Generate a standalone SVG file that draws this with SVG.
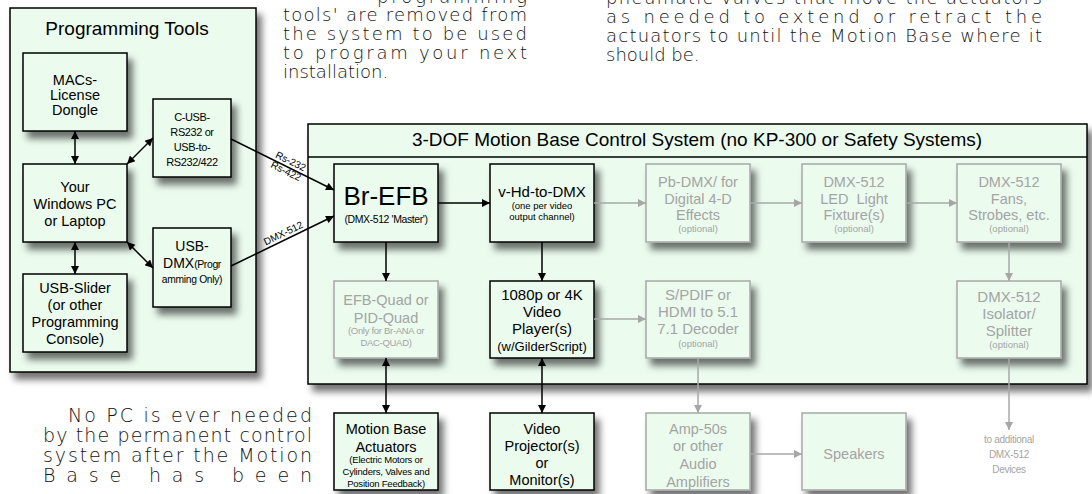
<svg xmlns="http://www.w3.org/2000/svg" width="1092" height="494" viewBox="0 0 1092 494">
<defs>
<filter id="sh" x="-20%" y="-20%" width="150%" height="150%">
<feDropShadow dx="5" dy="7" stdDeviation="3.5" flood-color="#000" flood-opacity="0.55"/>
</filter>
<marker id="ah" viewBox="0 0 10 10" refX="10" refY="5" markerWidth="9" markerHeight="8" orient="auto-start-reverse" markerUnits="userSpaceOnUse"><path d="M0,0 L10,5 L0,10 z" fill="#000"/></marker>
<marker id="ag" viewBox="0 0 10 10" refX="10" refY="5" markerWidth="9" markerHeight="8" orient="auto-start-reverse" markerUnits="userSpaceOnUse"><path d="M0,0 L10,5 L0,10 z" fill="#a6a6a6"/></marker>
</defs>
<style>
.box{fill:#ebfbee;stroke:#000;stroke-width:1.5;filter:url(#sh)}
.gbox{fill:#ebfbee;stroke:#a8a8a8;stroke-width:1.5;filter:url(#sh)}
.t{font-family:"Liberation Sans",Arial,sans-serif;text-anchor:middle;fill:#000;font-size:14.5px}
.g{fill:#a4a4a4}
.s{font-size:9.5px}
.c{stroke:#000;stroke-width:1.5;fill:none;marker-end:url(#ah)}
.cb{stroke:#000;stroke-width:1.5;fill:none;marker-end:url(#ah);marker-start:url(#ah)}
.cg{stroke:#a8a8a8;stroke-width:1.5;fill:none;marker-end:url(#ag)}
.p{font-family:"DejaVu Sans","Open Sans",sans-serif;font-weight:200;font-size:18px;fill:#111}
.lbl{font-family:"Liberation Sans",Arial,sans-serif;font-size:10px;text-anchor:middle;fill:#000}
</style>
<rect width="1092" height="494" fill="#fff"/>

<g id="para-top-left" class="p">
<text x="377" y="3" textLength="150" lengthAdjust="spacing">programming</text>
<text x="283" y="21" textLength="244" lengthAdjust="spacing">tools' are removed from</text>
<text x="283" y="40" textLength="244" lengthAdjust="spacing">the system to be used</text>
<text x="283" y="59" textLength="244" lengthAdjust="spacing">to program your next</text>
<text x="283" y="78">installation.</text>
</g>
<g id="para-top-right" class="p">
<text x="606" y="4" textLength="436" lengthAdjust="spacing">pneumatic valves that move the actuators</text>
<text x="606" y="23" textLength="436" lengthAdjust="spacing">as needed to extend or retract the</text>
<text x="606" y="42" textLength="436" lengthAdjust="spacing">actuators to until the Motion Base where it</text>
<text x="606" y="61">should be.</text>
</g>
<g id="para-bottom-left" class="p" style="font-size:19px">
<text x="68" y="422" textLength="244" lengthAdjust="spacing">No PC is ever needed</text>
<text x="43" y="442" textLength="269" lengthAdjust="spacing">by the permanent control</text>
<text x="43" y="462" textLength="269" lengthAdjust="spacing">system after the Motion</text>
<text x="43" y="482" textLength="269" lengthAdjust="spacing">Base has been</text>
</g>

<g id="programming-tools">
<rect class="box" x="10" y="8" width="246" height="364"/>
<text class="t" x="127" y="35" style="font-size:19px">Programming Tools</text>
</g>
<g id="motion-system">
<rect class="box" x="308" y="124" width="779" height="260"/>
<line x1="308" y1="157" x2="1087" y2="157" stroke="#000" stroke-width="1.5"/>
<text class="t" x="697" y="146" style="font-size:19px">3-DOF Motion Base Control System (no KP-300 or Safety Systems)</text>
</g>

<g id="macs">
<rect class="box" x="23" y="53" width="104" height="78"/>
<text class="t" x="75" y="85">MACs-</text>
<text class="t" x="75" y="100">License</text>
<text class="t" x="75" y="115">Dongle</text>
</g>
<g id="pc">
<rect class="box" x="23" y="164" width="104" height="78"/>
<text class="t" x="75" y="192">Your</text>
<text class="t" x="75" y="209">Windows PC</text>
<text class="t" x="75" y="226">or Laptop</text>
</g>
<g id="slider">
<rect class="box" x="23" y="274" width="104" height="78"/>
<text class="t" x="75" y="293">USB-Slider</text>
<text class="t" x="75" y="310">(or other</text>
<text class="t" x="75" y="327">Programming</text>
<text class="t" x="75" y="344">Console)</text>
</g>
<g id="c-usb">
<rect class="box" x="153" y="99" width="78" height="78"/>
<text class="t" x="192" y="121" style="font-size:11px;letter-spacing:-0.4px">C-USB-</text>
<text class="t" x="192" y="136" style="font-size:11px;letter-spacing:-0.4px">RS232 or</text>
<text class="t" x="192" y="151" style="font-size:11px;letter-spacing:-0.4px">USB-to-</text>
<text class="t" x="192" y="166" style="font-size:11px;letter-spacing:-0.4px">RS232/422</text>
</g>
<g id="usb-dmx">
<rect class="box" x="153" y="228" width="78" height="79"/>
<text class="t" x="192" y="251" style="font-size:14px">USB-</text>
<text class="t" x="192" y="268" style="font-size:14px">DMX<tspan style="font-size:10.5px;letter-spacing:-0.4px">(Progr</tspan></text>
<text class="t" x="192" y="283" style="font-size:10.3px;letter-spacing:-0.3px">amming Only)</text>
</g>

<g id="br-efb">
<rect class="box" x="334" y="164" width="104" height="78"/>
<text class="t" x="386" y="205" style="font-size:26px">Br-EFB</text>
<text class="t" x="386" y="223" style="font-size:10.5px;letter-spacing:-0.4px">(DMX-512 'Master')</text>
</g>
<g id="v-hd">
<rect class="box" x="490" y="164" width="104" height="78"/>
<text class="t" x="542" y="197" style="font-size:15px">v-Hd-to-DMX</text>
<text class="t s" x="542" y="209">(one per video</text>
<text class="t s" x="542" y="220">output channel)</text>
</g>
<g id="pb-dmx">
<rect class="gbox" x="646" y="164" width="104" height="78"/>
<text class="t g" x="698" y="187">Pb-DMX/ for</text>
<text class="t g" x="698" y="204">Digital 4-D</text>
<text class="t g" x="698" y="220">Effects</text>
<text class="t g s" x="698" y="232">(optional)</text>
</g>
<g id="led">
<rect class="gbox" x="802" y="164" width="104" height="78"/>
<text class="t g" x="854" y="187">DMX-512</text>
<text class="t g" x="854" y="204" xml:space="preserve">LED  Light</text>
<text class="t g" x="854" y="220">Fixture(s)</text>
<text class="t g s" x="854" y="232">(optional)</text>
</g>
<g id="fans">
<rect class="gbox" x="957" y="164" width="104" height="78"/>
<text class="t g" x="1009" y="187">DMX-512</text>
<text class="t g" x="1009" y="204">Fans,</text>
<text class="t g" x="1009" y="220">Strobes, etc.</text>
<text class="t g s" x="1009" y="232">(optional)</text>
</g>

<g id="efb-quad">
<rect class="gbox" x="334" y="281" width="104" height="77"/>
<text class="t g" x="386" y="305">EFB-Quad or</text>
<text class="t g" x="386" y="323">PID-Quad</text>
<text class="t g s" x="386" y="334" style="letter-spacing:-0.3px">(Only for Br-ANA or</text>
<text class="t g s" x="386" y="346" style="letter-spacing:-0.3px">DAC-QUAD)</text>
</g>
<g id="video-player">
<rect class="box" x="490" y="281" width="104" height="77"/>
<text class="t" x="542" y="300" style="font-size:15px">1080p or 4K</text>
<text class="t" x="542" y="317" style="font-size:15px">Video</text>
<text class="t" x="542" y="334" style="font-size:15px">Player(s)</text>
<text class="t" x="542" y="351" style="font-size:13px">(w/GilderScript)</text>
</g>
<g id="spdif">
<rect class="gbox" x="646" y="281" width="104" height="77"/>
<text class="t g" x="698" y="300" style="font-size:15px">S/PDIF or</text>
<text class="t g" x="698" y="317" style="font-size:15px">HDMI to 5.1</text>
<text class="t g" x="698" y="334" style="font-size:15px">7.1 Decoder</text>
<text class="t g s" x="698" y="347">(optional)</text>
</g>
<g id="isolator">
<rect class="gbox" x="957" y="281" width="104" height="77"/>
<text class="t g" x="1009" y="302" style="font-size:15px">DMX-512</text>
<text class="t g" x="1009" y="319" style="font-size:15px">Isolator/</text>
<text class="t g" x="1009" y="336" style="font-size:15px">Splitter</text>
<text class="t g s" x="1009" y="348">(optional)</text>
</g>

<g id="actuators">
<rect class="box" x="334" y="413" width="104" height="77"/>
<text class="t" x="386" y="434">Motion Base</text>
<text class="t" x="386" y="452">Actuators</text>
<text class="t s" x="386" y="463" style="letter-spacing:-0.2px">(Electric Motors or</text>
<text class="t s" x="386" y="475" style="letter-spacing:-0.2px">Cylinders, Valves and</text>
<text class="t s" x="386" y="487" style="letter-spacing:-0.2px">Position Feedback)</text>
</g>
<g id="projector">
<rect class="box" x="490" y="413" width="104" height="77"/>
<text class="t" x="542" y="434">Video</text>
<text class="t" x="542" y="451">Projector(s)</text>
<text class="t" x="542" y="468">or</text>
<text class="t" x="542" y="485">Monitor(s)</text>
</g>
<g id="amp">
<rect class="gbox" x="646" y="413" width="104" height="77"/>
<text class="t g" x="698" y="434">Amp-50s</text>
<text class="t g" x="698" y="451">or other</text>
<text class="t g" x="698" y="469">Audio</text>
<text class="t g" x="698" y="487">Amplifiers</text>
</g>
<g id="speakers">
<rect class="gbox" x="802" y="413" width="104" height="77"/>
<text class="t g" x="854" y="459">Speakers</text>
</g>
<g id="additional">
<text class="t g" x="1009" y="443" style="font-size:10px;letter-spacing:-0.3px">to additional</text>
<text class="t g" x="1009" y="458" style="font-size:10px;letter-spacing:-0.3px">DMX-512</text>
<text class="t g" x="1009" y="473" style="font-size:10px;letter-spacing:-0.3px">Devices</text>
</g>

<g id="connectors">
<path class="cb" d="M75,131 L75,164"/>
<path class="cb" d="M127,164 L153,138"/>
<path class="cb" d="M75,242 L75,274"/>
<path class="cb" d="M127,242 L153,268"/>
<path class="c" d="M231,139 L334,190"/>
<path class="c" d="M231,266 L334,216"/>
<path class="c" d="M438,203 L490,203"/>
<path class="c" d="M386,242 L386,281"/>
<path class="c" d="M542,242 L542,281"/>
<path class="cg" d="M594,203 L646,203"/>
<path class="cg" d="M750,203 L802,203"/>
<path class="cg" d="M906,203 L957,203"/>
<path class="cg" d="M1009,242 L1009,281"/>
<path class="cg" d="M594,319 L646,319"/>
<path class="cb" d="M386,358 L386,413"/>
<path class="cb" d="M542,358 L542,413"/>
<path class="cg" d="M698,358 L698,413"/>
<path class="cg" d="M1009,358 L1009,430"/>
<path class="cg" d="M750,454 L802,454"/>
<g transform="translate(288,167) rotate(26)">
<text class="lbl" x="0" y="-3">Rs-232</text>
<text class="lbl" x="0" y="8">Rs-422</text>
</g>
<g transform="translate(286,239) rotate(-25.9)">
<text class="lbl" x="0" y="-3">DMX-512</text>
</g>
</g>
</svg>
